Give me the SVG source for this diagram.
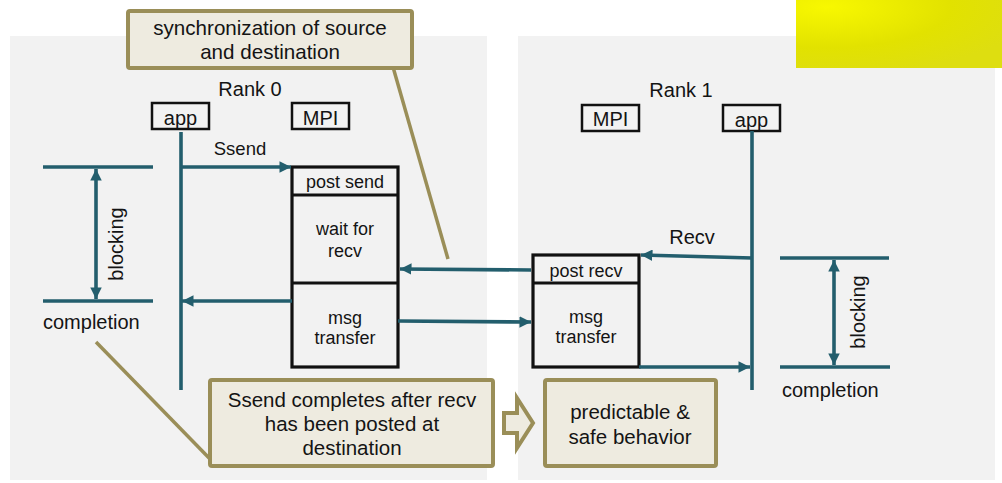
<svg xmlns="http://www.w3.org/2000/svg" width="1002" height="483" viewBox="0 0 1002 483">
<defs>
<style>
text{font-family:"Liberation Sans",Arial,sans-serif;fill:#141414}
.t20{font-size:20px}
.t18{font-size:18px}
.c{text-anchor:middle}
.panel{fill:#f2f2f2}
.lbl{fill:none;stroke:#111;stroke-width:2.5}
.blk{fill:none;stroke:#111;stroke-width:3.2}
.teal{stroke:#235e6d;stroke-width:3.6;fill:none}
.note{fill:#eeebe0;stroke:#9a8e58;stroke-width:4}
.pt{stroke:#9a8e58;stroke-width:3.5;fill:none}
</style>
<marker id="ah" viewBox="0 0 10 10" refX="10" refY="5" markerWidth="3.2" markerHeight="3.2" markerUnits="strokeWidth" orient="auto-start-reverse">
<path d="M0,0 L10,5 L0,10 z" fill="#235e6d"/>
</marker>
<radialGradient id="yg" cx="0.15" cy="0.1" r="1">
<stop offset="0" stop-color="#f8f800"/>
<stop offset="0.6" stop-color="#e2e200"/>
<stop offset="1" stop-color="#dede10"/>
</radialGradient>
</defs>

<rect class="panel" x="10" y="36" width="477" height="444"/>
<rect class="panel" x="518" y="36" width="477" height="444"/>
<rect x="796" y="0" width="206" height="68" fill="url(#yg)"/>

<g id="rank0">
<text class="t20 c" x="250" y="96">Rank 0</text>
</g>
<g id="rank1">
<text class="t20 c" x="681" y="97">Rank 1</text>
</g>

<g id="app0">
<rect class="lbl" x="152" y="103" width="57" height="26"/>
<text class="t20 c" x="180.5" y="125">app</text>
</g>
<g id="mpi0">
<rect class="lbl" x="292" y="103" width="57" height="26"/>
<text class="t20 c" x="320.5" y="125">MPI</text>
</g>
<g id="mpi1">
<rect class="lbl" x="582" y="105" width="57" height="26"/>
<text class="t20 c" x="610.5" y="126">MPI</text>
</g>
<g id="app1">
<rect class="lbl" x="723" y="105" width="57" height="26"/>
<text class="t20 c" x="751.5" y="127">app</text>
</g>

<g id="sendbox">
<rect class="blk" x="292" y="167" width="106" height="200"/>
<line class="blk" x1="292" y1="195" x2="398" y2="195"/>
<line class="blk" x1="292" y1="283" x2="398" y2="283"/>
<text class="t18 c" x="345" y="188">post send</text>
<text class="t18 c" x="345" y="235">wait for</text>
<text class="t18 c" x="345" y="257">recv</text>
<text class="t18 c" x="345" y="324">msg</text>
<text class="t18 c" x="345" y="344">transfer</text>
</g>

<g id="recvbox">
<rect class="blk" x="533" y="255" width="106" height="112"/>
<line class="blk" x1="533" y1="283" x2="639" y2="283"/>
<text class="t18 c" x="586" y="277">post recv</text>
<text class="t18 c" x="586" y="323">msg</text>
<text class="t18 c" x="586" y="343">transfer</text>
</g>

<g id="blocking0">
<line class="teal" x1="43" y1="167" x2="153" y2="167"/>
<line class="teal" x1="43" y1="301" x2="153" y2="301"/>
<text class="t20 c" transform="translate(123,244) rotate(-90)" x="0" y="0">blocking</text>
<text class="t20" x="43" y="329">completion</text>
</g>

<g id="blocking1">
<line class="teal" x1="780" y1="258" x2="889" y2="258"/>
<line class="teal" x1="780" y1="367" x2="890" y2="367"/>
<text class="t20 c" transform="translate(865,312) rotate(-90)" x="0" y="0">blocking</text>
<text class="t20" x="782" y="397">completion</text>
</g>

<g id="connectors">
<line class="teal" x1="181" y1="132" x2="181" y2="390"/>
<line class="teal" x1="752" y1="131" x2="752" y2="390"/>
<line class="teal" x1="96" y1="169" x2="96" y2="299" marker-start="url(#ah)" marker-end="url(#ah)"/>
<line class="teal" x1="834" y1="260" x2="834" y2="365" marker-start="url(#ah)" marker-end="url(#ah)"/>
<line class="teal" x1="181" y1="167" x2="291" y2="167" marker-end="url(#ah)"/>
<text class="t18 c" x="240" y="155" style="font-size:18.5px">Ssend</text>
<line class="teal" x1="292" y1="301" x2="182" y2="301" marker-end="url(#ah)"/>
<line class="teal" x1="531" y1="270" x2="400" y2="269" marker-end="url(#ah)"/>
<line class="teal" x1="398" y1="321" x2="531" y2="322" marker-end="url(#ah)"/>
<line class="teal" x1="752" y1="258" x2="641" y2="255" marker-end="url(#ah)"/>
<text class="t20 c" x="692" y="244">Recv</text>
<line class="teal" x1="639" y1="367" x2="750" y2="367" marker-end="url(#ah)"/>
</g>

<g id="note-sync">
<line class="pt" x1="393" y1="67" x2="448" y2="259"/>
<rect class="note" x="128" y="11" width="284" height="57" rx="2"/>
<text class="t20 c" x="270" y="35" style="font-size:20.6px">synchronization of source</text>
<text class="t20 c" x="270" y="59" style="font-size:20.6px">and destination</text>
</g>

<g id="note-ssend">
<line class="pt" x1="96" y1="342" x2="211" y2="460"/>
<rect class="note" x="210" y="380" width="283" height="86" rx="2"/>
<text class="t20 c" x="352" y="407" style="font-size:20.5px">Ssend completes after recv</text>
<text class="t20 c" x="352" y="431" style="font-size:20.5px">has been posted at</text>
<text class="t20 c" x="352" y="455" style="font-size:20.5px">destination</text>
</g>

<g id="implies">
<polygon class="note" points="504,413 517,413 517,398 533,423 517,448 517,433 504,433"/>
</g>

<g id="note-safe">
<rect class="note" x="545" y="380" width="171" height="86" rx="2"/>
<text class="t20 c" x="630" y="419" style="font-size:20.5px">predictable &amp;</text>
<text class="t20 c" x="630" y="444" style="font-size:20.5px">safe behavior</text>
</g>
</svg>
